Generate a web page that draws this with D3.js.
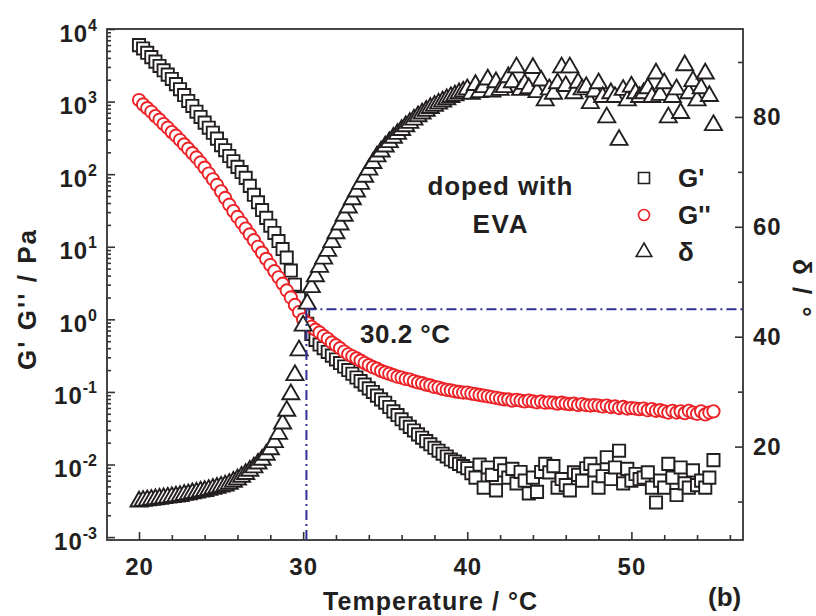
<!DOCTYPE html>
<html>
<head>
<meta charset="utf-8">
<script src="https://cdn.jsdelivr.net/npm/d3@7"></script>
<style>
    body { margin: 0; background: #ffffff; }
    svg text { font-family: "Liberation Sans", Arial, sans-serif;
               font-weight: bold; fill: #231f20; }
    .axis line { stroke: #333333; stroke-width: 1.6; }
    .axis text { font-size: 24px; letter-spacing: 1px; fill: #231f20; }
</style>
</head>
<body>
<div id="chart"></div>
<script>
// temperature grid of the measurement, in degrees C
const temps = [
    20.00, 20.25, 20.50, 20.75, 21.00, 21.25, 21.50, 21.75,
    22.00, 22.25, 22.50, 22.75, 23.00, 23.25, 23.50, 23.75,
    24.00, 24.25, 24.50, 24.75, 25.00, 25.25, 25.50, 25.75,
    26.00, 26.25, 26.50, 26.75, 27.00, 27.25, 27.50, 27.75,
    28.00, 28.25, 28.50, 28.75, 29.00, 29.25, 29.50, 29.75,
    30.00, 30.25, 30.50, 30.75, 31.00, 31.25, 31.50, 31.75,
    32.00, 32.25, 32.50, 32.75, 33.00, 33.25, 33.50, 33.75,
    34.00, 34.25, 34.50, 34.75, 35.00, 35.25, 35.50, 35.75,
    36.00, 36.25, 36.50, 36.75, 37.00, 37.25, 37.50, 37.75,
    38.00, 38.25, 38.50, 38.75, 39.00, 39.25, 39.50, 39.75,
    40.00, 40.25, 40.50, 40.75, 41.00, 41.25, 41.50, 41.75,
    42.00, 42.25, 42.50, 42.75, 43.00, 43.25, 43.50, 43.75,
    44.00, 44.25, 44.50, 44.75, 45.00, 45.25, 45.50, 45.75,
    46.00, 46.25, 46.50, 46.75, 47.00, 47.25, 47.50, 47.75,
    48.00, 48.25, 48.50, 48.75, 49.00, 49.25, 49.50, 49.75,
    50.00, 50.25, 50.50, 50.75, 51.00, 51.25, 51.50, 51.75,
    52.00, 52.25, 52.50, 52.75, 53.00, 53.25, 53.50, 53.75,
    54.00, 54.25, 54.50, 54.75, 55.00
];

// storage modulus G' in Pa
const gPrime = [
    6000, 5400, 4700, 4100, 3550, 3100, 2700, 2350,
    2050, 1740, 1480, 1230, 1020, 870, 725, 615,
    513, 437, 372, 309, 251, 214, 178, 151,
    126, 107, 89, 69, 52, 41, 32, 25,
    19.5, 15.5, 12.0, 9.3, 7.1, 4.7, 3.0, 1.95,
    1.26, 0.87, 0.63, 0.52, 0.45, 0.40, 0.355, 0.316,
    0.28, 0.25, 0.224, 0.20, 0.178, 0.158, 0.141, 0.126,
    0.112, 0.100, 0.089, 0.079, 0.071, 0.062, 0.054, 0.048,
    0.042, 0.037, 0.033, 0.0295, 0.026, 0.0234, 0.021, 0.019,
    0.017, 0.0155, 0.0141, 0.0129, 0.0117, 0.011, 0.0102, 0.0095,
    0.0089, 0.0076, 0.0066, 0.0100, 0.0048, 0.0091, 0.0072, 0.0044,
    0.0102, 0.0083, 0.0066, 0.0087, 0.0055, 0.0079, 0.0060, 0.0040,
    0.0066, 0.0042, 0.0079, 0.0102, 0.0078, 0.0095, 0.0048, 0.0063,
    0.0052, 0.0044, 0.0078, 0.0072, 0.0060, 0.0089, 0.0102, 0.0083,
    0.0048, 0.0069, 0.0126, 0.0063, 0.0091, 0.0155, 0.0055, 0.0087,
    0.0060, 0.0074, 0.0063, 0.0066, 0.0078, 0.0048, 0.0030, 0.0060,
    0.0048, 0.0102, 0.0066, 0.0038, 0.0091, 0.0055, 0.0048, 0.0083,
    0.0052, 0.0060, 0.0048, 0.0066, 0.0115
];

// loss modulus G'' in Pa
const gDoublePrime = [
    1050, 912, 813, 724, 631, 562, 490, 437,
    380, 339, 295, 257, 224, 195, 170, 145,
    123, 102, 85, 71, 58, 47, 38, 31,
    25.7, 21.4, 17.8, 14.8, 12.3, 10, 8.3, 6.8,
    5.6, 4.6, 3.8, 3.1, 2.5, 2.0, 1.58, 1.26,
    1.0, 0.89, 0.79, 0.72, 0.66, 0.59, 0.54, 0.48,
    0.44, 0.40, 0.36, 0.33, 0.31, 0.29, 0.27, 0.25,
    0.234, 0.219, 0.209, 0.195, 0.186, 0.178, 0.170, 0.162,
    0.158, 0.151, 0.148, 0.141, 0.135, 0.132, 0.126, 0.123,
    0.117, 0.115, 0.110, 0.107, 0.105, 0.102, 0.100, 0.098,
    0.098, 0.095, 0.093, 0.091, 0.089, 0.087, 0.085, 0.083,
    0.081, 0.079, 0.079, 0.076, 0.078, 0.076, 0.074, 0.076,
    0.074, 0.072, 0.074, 0.071, 0.072, 0.071, 0.069, 0.071,
    0.069, 0.068, 0.069, 0.066, 0.068, 0.066, 0.065, 0.066,
    0.065, 0.063, 0.065, 0.062, 0.063, 0.060, 0.062, 0.059,
    0.060, 0.059, 0.058, 0.059, 0.056, 0.058, 0.055, 0.056,
    0.054, 0.052, 0.055, 0.052, 0.054, 0.051, 0.055, 0.052,
    0.050, 0.054, 0.049, 0.052, 0.054
];

// phase angle delta in degrees
const delta = [
    10.0, 10.1, 10.2, 10.3, 10.4, 10.5, 10.6, 10.7,
    10.8, 10.9, 11.0, 11.2, 11.3, 11.5, 11.6, 11.8,
    11.9, 12.1, 12.3, 12.5, 12.7, 12.9, 13.2, 13.6,
    14.0, 14.5, 15.0, 15.6, 16.2, 16.9, 17.6, 18.5,
    19.5, 20.8, 22.3, 24.2, 26.5, 29.5, 33.0, 37.5,
    42.0, 46.0, 49.0, 51.0, 52.7, 54.2, 55.6, 57.2,
    58.8, 60.4, 62.0, 63.5, 65.0, 66.4, 67.8, 69.1,
    70.4, 71.6, 72.8, 73.7, 74.6, 75.4, 76.2, 76.9,
    77.6, 78.3, 78.9, 79.5, 80.1, 80.6, 81.1, 81.6,
    82.0, 82.4, 82.8, 83.2, 83.6, 83.9, 84.3, 84.6,
    85.0, 84.2, 85.8, 84.5, 85.4, 86.8, 84.6, 86.3,
    84.9, 85.4, 87.2, 86.3, 89.0, 84.9, 86.0, 85.2,
    88.9, 84.5, 86.6, 83.0, 85.0, 84.2, 86.1, 89.0,
    85.6, 89.0, 84.3, 86.2, 85.0, 85.4, 82.5, 84.6,
    86.1, 83.6, 79.9, 84.3, 83.6, 75.8, 84.9, 83.0,
    85.5, 84.3, 83.6, 84.3, 85.2, 83.6, 87.9, 84.0,
    86.1, 79.9, 83.6, 85.0, 80.7, 89.4, 84.3, 86.5,
    83.0, 85.2, 87.9, 83.8, 78.5
];

// axis ticks and labels
const xTicks = [20, 30, 40, 50];
const leftExponents = [-3, -2, -1, 0, 1, 2, 3, 4];
const rightTicks = [20, 40, 60, 80];
const rightMinorTicks = [10, 30, 50, 70, 90];

// gel point marker: crossover temperature and delta = 45 degrees
const crossTemp = 30.2;
const crossDelta = 45;

const legendLabels = ["G'", "G''", "δ"];


/**
 * Starts drawing once the page is loaded.
 */
window.onload = function() {
    main();
};


/**
 * Main function, builds the svg, scales and all chart parts.
 */
function main() {
    let dims = {w: 816, h: 616, left: 107, right: 743, top: 29, bottom: 540};

    let svg = d3.select("#chart")
                .append("svg")
                .attr("width", dims.w)
                .attr("height", dims.h);

    // shared scales
    let scales = {
        x: d3.scaleLinear()
             .domain([18.05, 56.8])
             .range([dims.left, dims.right]),
        yLeft: d3.scaleLog()
                 .domain([Math.pow(10, -3.04), 1e4])
                 .range([dims.bottom, dims.top]),
        yRight: d3.scaleLinear()
                  .domain([3, 96])
                  .range([dims.bottom, dims.top])
    };

    drawAxes(svg, scales, dims);
    drawSeries(svg, scales);
    drawGuides(svg, scales, dims);
    drawTexts(svg, dims);
    drawLegend(svg);
}


/**
 * Draws the frame, ticks and tick labels of all three axes.
 */
function drawAxes(svg, scales, dims) {
    // bottom axis, minor every 2 degrees
    let xMinor = d3.range(22, 57, 2).filter(function(d) {
        return d % 10 !== 0;
    });
    svg.append("g")
       .attr("class", "axis")
       .attr("transform", "translate(0," + dims.bottom + ")")
       .call(d3.axisBottom(scales.x).tickValues(xMinor)
               .tickSize(-5).tickFormat(""))
       .call(function(g) { g.select(".domain").remove(); });

    svg.append("g")
       .attr("class", "axis")
       .attr("transform", "translate(0," + dims.bottom + ")")
       .call(d3.axisBottom(scales.x).tickValues(xTicks)
               .tickSize(-8).tickPadding(18).tickFormat(d3.format("d")))
       .call(function(g) { g.select(".domain").remove(); });

    // left log axis, minor ticks 2..9 of each decade
    let logMinor = scales.yLeft.ticks().filter(function(d) {
        let e = Math.log10(d);
        return Math.abs(e - Math.round(e)) > 1e-6;
    });
    svg.append("g")
       .attr("class", "axis")
       .attr("transform", "translate(" + dims.left + ",0)")
       .call(d3.axisLeft(scales.yLeft).tickValues(logMinor)
               .tickSize(-4).tickFormat(""))
       .call(function(g) { g.select(".domain").remove(); });

    let leftMajor = svg.append("g")
       .attr("class", "axis")
       .attr("transform", "translate(" + dims.left + ",0)")
       .call(d3.axisLeft(scales.yLeft)
               .tickValues(leftExponents.map(function(e) { return Math.pow(10, e); }))
               .tickSize(-8).tickFormat(""))
       .call(function(g) { g.select(".domain").remove(); });

    // power-of-ten labels with superscript exponent
    let labels = leftMajor.selectAll(".tick")
                          .append("text")
                          .attr("x", -10)
                          .attr("y", 12)
                          .attr("text-anchor", "end");
    labels.append("tspan").text("10");
    labels.append("tspan")
          .attr("dy", -11)
          .style("font-size", "16px")
          .style("letter-spacing", "0px")
          .text(function(d) { return Math.round(Math.log10(d)); });

    // right axis for delta
    svg.append("g")
       .attr("class", "axis")
       .attr("transform", "translate(" + dims.right + ",0)")
       .call(d3.axisRight(scales.yRight).tickValues(rightMinorTicks)
               .tickSize(-5).tickFormat(""))
       .call(function(g) { g.select(".domain").remove(); });

    svg.append("g")
       .attr("class", "axis")
       .attr("transform", "translate(" + dims.right + ",0)")
       .call(d3.axisRight(scales.yRight).tickValues(rightTicks)
               .tickSize(-8).tickPadding(10))
       .call(function(g) { g.select(".domain").remove(); });

    // plot frame
    svg.append("rect")
       .attr("x", dims.left)
       .attr("y", dims.top)
       .attr("width", dims.right - dims.left)
       .attr("height", dims.bottom - dims.top)
       .attr("fill", "none")
       .attr("stroke", "#333333")
       .attr("stroke-width", 1.8);
}


/**
 * Draws the three marker series: squares, circles and triangles.
 */
function drawSeries(svg, scales) {
    let series = [
        {values: gPrime, y: scales.yLeft, type: d3.symbolSquare, size: 148,
         color: "#231f20"},
        {values: gDoublePrime, y: scales.yLeft, type: d3.symbolCircle, size: 120,
         color: "#ec2227"},
        {values: delta, y: scales.yRight, type: d3.symbolTriangle, size: 126,
         color: "#231f20"}
    ];

    series.forEach(function(s) {
        let symbol = d3.symbol().type(s.type).size(s.size);

        svg.append("g")
           .selectAll("path")
           .data(temps)
           .enter()
           .append("path")
           .attr("d", symbol)
           .attr("transform", function(d, i) {
               return "translate(" + scales.x(d) + "," + s.y(s.values[i]) + ")";
           })
           .attr("fill", "#ffffff")
           .attr("stroke", s.color)
           .attr("stroke-width", 1.9);
    });
}


/**
 * Draws the dash-dot lines marking the gel point.
 */
function drawGuides(svg, scales, dims) {
    let gx = scales.x(crossTemp);
    let gy = scales.yRight(crossDelta);

    let guides = svg.append("g")
                    .attr("fill", "none")
                    .attr("stroke", "#2e3192")
                    .attr("stroke-width", 2)
                    .attr("stroke-dasharray", "10,4,2,4");

    guides.append("line")
          .attr("x1", gx).attr("x2", gx)
          .attr("y1", dims.bottom).attr("y2", gy);

    guides.append("line")
          .attr("x1", gx).attr("x2", dims.right)
          .attr("y1", gy).attr("y2", gy);
}


/**
 * Adds axis titles and annotations.
 */
function drawTexts(svg, dims) {
    svg.append("text")
       .attr("x", 430)
       .attr("y", 610)
       .attr("text-anchor", "middle")
       .attr("textLength", 214)
       .style("font-size", "25px")
       .text("Temperature / °C");

    svg.append("text")
       .attr("transform", "translate(36,300) rotate(-90)")
       .attr("text-anchor", "middle")
       .attr("textLength", 140)
       .style("font-size", "26px")
       .text("G' G'' / Pa");

    svg.append("text")
       .attr("transform", "translate(793,288) rotate(90)")
       .attr("text-anchor", "middle")
       .attr("textLength", 58)
       .style("font-size", "26px")
       .text("δ / °");

    svg.append("text")
       .attr("x", 500)
       .attr("y", 195)
       .attr("text-anchor", "middle")
       .attr("textLength", 145)
       .style("font-size", "26px")
       .text("doped with");

    svg.append("text")
       .attr("x", 500)
       .attr("y", 233)
       .attr("text-anchor", "middle")
       .attr("textLength", 55)
       .style("font-size", "26px")
       .text("EVA");

    svg.append("text")
       .attr("x", 360)
       .attr("y", 343)
       .attr("textLength", 90)
       .style("font-size", "26px")
       .text("30.2 °C");

    svg.append("text")
       .attr("x", 708)
       .attr("y", 606)
       .style("font-size", "26px")
       .text("(b)");
}


/**
 * Draws the legend with one marker per series.
 */
function drawLegend(svg) {
    let types = [d3.symbolSquare, d3.symbolCircle, d3.symbolTriangle];
    let sizes = [121, 95, 105];
    let colors = ["#231f20", "#ec2227", "#231f20"];

    let items = svg.append("g")
                   .selectAll("g")
                   .data(legendLabels)
                   .enter()
                   .append("g")
                   .attr("transform", function(d, i) {
                       return "translate(644," + (178 + i * 37) + ")";
                   });

    items.append("path")
         .attr("d", function(d, i) {
             return d3.symbol().type(types[i]).size(sizes[i])();
         })
         .attr("fill", "#ffffff")
         .attr("stroke", function(d, i) { return colors[i]; })
         .attr("stroke-width", 1.6);

    items.append("text")
         .attr("x", 34)
         .attr("y", 9)
         .style("font-size", "26px")
         .text(function(d) { return d; });
}
</script>
</body>
</html>
